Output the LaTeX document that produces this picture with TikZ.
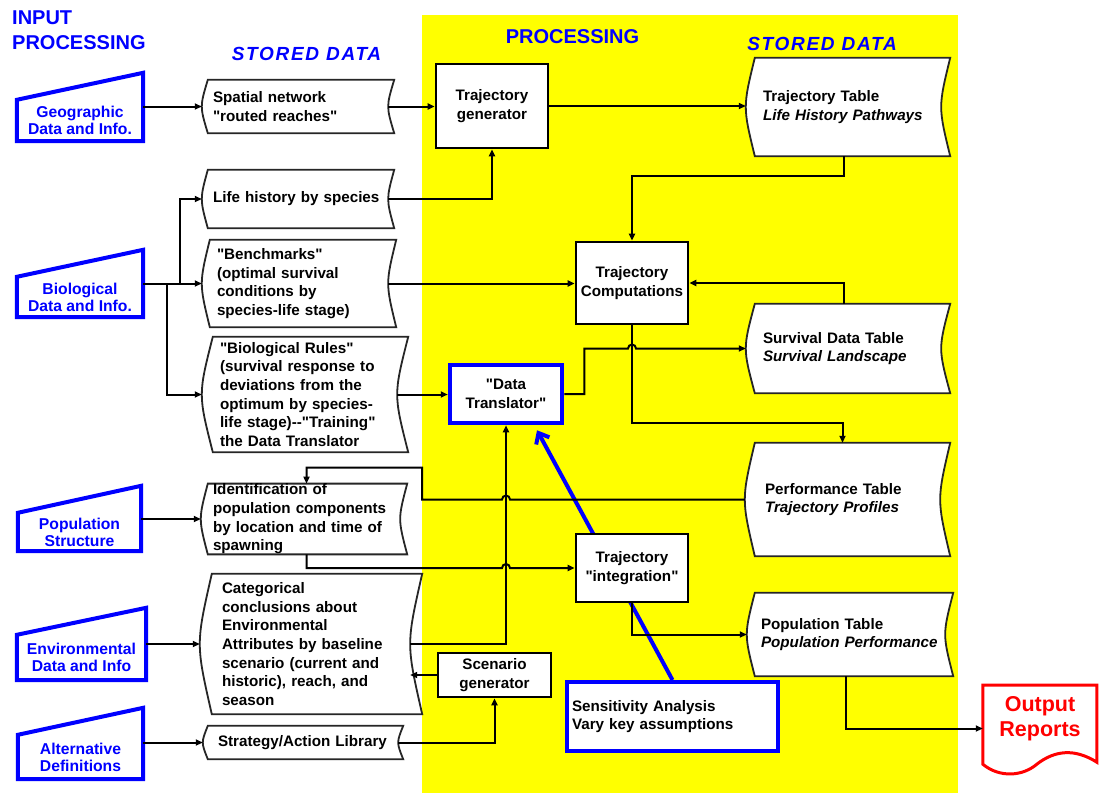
\documentclass[tikz,border=0pt]{standalone}
\usepackage{fontspec}
\setmainfont{Liberation Sans}
\usetikzlibrary{arrows.meta}
\pgfdeclarelayer{background}
\pgfsetlayers{background,main}
\definecolor{hiyellow}{RGB}{255,255,0}
\definecolor{flowblue}{RGB}{0,0,255}
\definecolor{outred}{RGB}{255,0,0}
\newcommand\dq{\textquotedbl}
\tikzset{
  txt/.style={font=\fontsize{15.2}{18.7}\selectfont\bfseries},
  head/.style={font=\fontsize{20}{25}\selectfont\bfseries,text=flowblue,inner sep=0pt},
  stohead/.style={font=\fontsize{19}{22}\selectfont\bfseries\itshape\addfontfeature{LetterSpace=9},text=flowblue,inner sep=0pt},
  inp/.style={font=\fontsize{15.7}{17}\selectfont\bfseries,text=flowblue,align=center,inner sep=0pt},
  inshape/.style={draw=flowblue,line width=4pt},
  store/.style n args={3}{txt,minimum width=#1pt,minimum height=#2pt,text width=#3pt,inner sep=0pt,align=left},
  storeline/.style={draw=black!85,fill=white,line width=1.8pt},
  proc/.style={txt,draw,fill=white,line width=2.6pt,inner sep=0pt,align=center},
  outrep/.style={font=\fontsize{21.5}{24.5}\selectfont\bfseries,text=outred,minimum width=114pt,minimum height=67pt,inner sep=0pt,align=center},
  conn/.style={line width=2pt,-{Triangle[length=7pt,width=6pt]}}
}
\begin{document}
\begin{tikzpicture}[x=1pt,y=-1pt]
\useasboundingbox (0,0) rectangle (1103,793);
\node[head,anchor=west,align=left] (inhead) at (12,30) {INPUT\\PROCESSING};
\node[stohead] (stoleft) at (306.5,53.5) {STORED DATA};
\node[head] (prochead) at (572.5,37) {PROCESSING};
\node[stohead] (storight) at (822,43.5) {STORED DATA};
% inputs
\node[inp,minimum width=126pt,minimum height=41pt] (geo) at (80,120.5) {Geographic\\Data and Info.};
\node[inp,minimum width=126pt,minimum height=40pt] (bio) at (80,297) {Biological\\Data and Info.};
\node[inp,minimum width=123pt,minimum height=38pt] (popin) at (79.5,532) {Population\\Structure};
\node[inp,minimum width=129pt,minimum height=45pt] (envin) at (81.5,657.5) {Environmental\\Data and Info};
\node[inp,minimum width=125pt,minimum height=44pt] (altin) at (80.5,757) {Alternative\\Definitions};
\foreach \n in {geo,bio,popin,envin,altin}
  \draw[inshape] (\n.south west) -- (\n.north west) -- ([yshift=27]\n.north east) -- (\n.south east) -- cycle;
% stored data
\node[store={186}{53}{164}] (spatial) at (295,106.5) {Spatial network\\\dq routed reaches\dq};
\node[store={186}{58}{164}] (lifehist) at (295,199) {\mbox{Life history by species}};
\node[store={186}{87}{156}] (bench) at (295,283.5) {\dq Benchmarks\dq\\(optimal survival\\conditions by\\species-life stage)};
\node[store={195}{115}{159}] (biorules) at (299.5,394.5) {\dq Biological Rules\dq\\\mbox{(survival response to}\\deviations from the\\\mbox{optimum by species-}\\\mbox{life stage)-{}-\dq Training\dq}\\the Data Translator};
\node[store={199}{70}{175}] (ident) at (300.5,519) {Identification of\\\mbox{population components}\\by location and time of\\spawning};
\node[store={210}{140}{166}] (categ) at (305,644) {Categorical\\conclusions about\\Environmental\\\mbox{Attributes by baseline}\\scenario (current and\\historic), reach, and\\season};
\node[store={195}{33}{165}] (strategy) at (300.5,742.5) {\mbox{Strategy/Action Library}};
\node[store={195}{98}{161}] (trajtab) at (843.5,107) {Trajectory Table\\\mbox{\itshape Life History Pathways}};
\node[store={195}{89}{161}] (survtab) at (843.5,348.5) {Survival Data Table\\\textit{Survival Landscape}};
\node[store={195}{113}{155}] (perftab) at (842.5,499.5) {Performance Table\\\textit{Trajectory Profiles}};
\node[store={198}{83}{170}] (poptab) at (846,634.5) {Population Table\\\mbox{\itshape Population Performance}};
% processing
\node[proc,minimum width=112pt,minimum height=84pt] (trajgen) at (492,106) {Trajectory\\generator};
\node[proc,minimum width=112pt,minimum height=82pt] (comp) at (632,283) {Trajectory\\Computations};
\node[proc,draw=flowblue,line width=4.5pt,minimum width=112pt,minimum height=58pt] (trans) at (506,394) {\dq Data\\Translator\dq};
\node[proc,minimum width=112pt,minimum height=68pt] (integ) at (632,568) {Trajectory\\\dq integration\dq};
\node[proc,minimum width=113pt,minimum height=44pt] (scen) at (494.5,675) {Scenario\\generator};
\node[proc,draw=flowblue,line width=4pt,minimum width=211pt,minimum height=69pt,text width=201pt,align=left] (sens) at (672.5,716.5) {Sensitivity Analysis\\Vary key assumptions};
\node[outrep] (output) at (1040,718.5) {Output\\Reports};
\begin{scope}[shift={(output.south west)}]
\draw[outred,line width=3pt] (0,12) -- (0,-67) -- (114,-67) -- (114,10) .. controls (92,-4) and (72,-2) .. (54,12) .. controls (40,24) and (17,26) .. (0,12) -- cycle;
\end{scope}
\begin{pgfonlayer}{background}
\fill[white] (0,0) rectangle (1103,793);
\fill[hiyellow] (422,15) rectangle (958,793);
\foreach \n/\b in {spatial/6,lifehist/6,bench/8,biorules/11,ident/7,categ/12,strategy/5,trajtab/9,survtab/9,perftab/10,poptab/8}
  \draw[storeline] ([xshift=\b]\n.north west) -- ([xshift=\b]\n.north east)
    .. controls ([xshift=-\b/3]\n.east) .. ([xshift=\b]\n.south east)
    -- ([xshift=\b]\n.south west) .. controls ([xshift=-\b/3]\n.west) .. ([xshift=\b]\n.north west) -- cycle;
\draw[flowblue,line width=4pt,-{Straight Barb[length=9pt,width=15pt]}] (sens.north) -- ([xshift=31,yshift=-5]trans.south);
\end{pgfonlayer}
% connectors
\draw[conn] (geo.east |- spatial.west) -- (spatial.west);
\draw[conn] (spatial.east) -- (spatial.east -| trajgen.west);
\draw[conn] (lifehist.east) -| (trajgen.south);
\draw[conn] (bio.east |- bench.west) -- (bench.west);
\draw[conn] ([xshift=37]bio.east |- bench.west) |- (lifehist.west);
\draw[conn] ([xshift=24]bio.east |- bench.west) |- (biorules.west);
\draw[conn] (bench.east) -- (bench.east -| comp.west);
\draw[conn] (biorules.east) -- (biorules.east -| trans.west);
\draw[conn] (popin.east |- ident.west) -- (ident.west);
\draw[conn] (envin.east |- categ.west) -- (categ.west);
\draw[conn] (altin.east |- strategy.west) -- (strategy.west);
\draw[conn] (trajgen.east) -- (trajgen.east -| trajtab.west);
\draw[conn] (trajtab.south) -- ++(0,20) -| (comp.north);
\draw[conn] (survtab.north) |- (comp.east);
\draw[conn] (trans.east) -- ++(20,0) |- ([xshift=-4]comp.south |- survtab.west) arc[start angle=180,end angle=0,radius=4pt] -- (survtab.west);
\draw[conn] (comp.south) -- ++(0,98) -| (perftab.north);
\draw[conn] (perftab.west) -- ([xshift=4]trans.south |- perftab.west) arc[start angle=0,end angle=180,radius=4pt] -- ++(-80,0) -- ++(0,-32) -| ([xshift=6]ident.north);
\draw[conn] ([xshift=6]ident.south) |- ([xshift=-4]trans.south |- integ.west) arc[start angle=180,end angle=0,radius=4pt] -- (integ.west);
\draw[conn] (categ.east) -| (trans.south);
\draw[conn] (scen.west) -- (scen.west -| categ.east);
\draw[conn] (strategy.east) -| (scen.south);
\draw[conn] (integ.south) |- (poptab.west);
\draw[conn] (poptab.south) |- ([yshift=-10]output.west);
\end{tikzpicture}
\end{document}
